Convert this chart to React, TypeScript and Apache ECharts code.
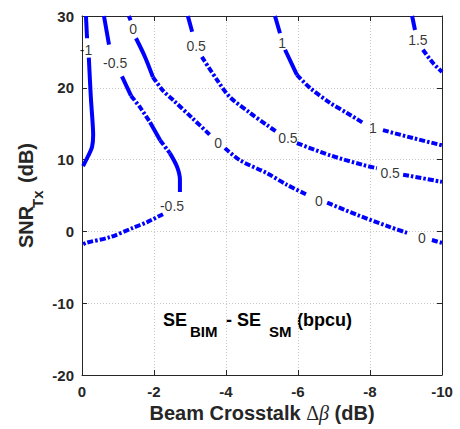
import React, { useEffect, useRef } from "react";
import * as echarts from "echarts";

// ---- axes ----
const X_MIN = -10;
const X_MAX = 0;
const X_STEP = 2;
const Y_MIN = -20;
const Y_MAX = 30;
const Y_STEP = 10;

// ---- contour lines (x = beam crosstalk dB, y = SNR_Tx dB), split where labels sit ----
const levelMinus1 = [
  [[-0.11, 30], [-0.14, 26.9]],
  [[-0.19, 24.2], [-0.22, 21.1], [-0.25, 18.3], [-0.29, 15.5], [-0.31, 13.4], [-0.28, 11.8], [-0.17, 10.5], [-0.03, 9.1]],
];
const levelMinus05 = [
  [[-0.61, 30], [-0.75, 26.0]],
  [[-1.11, 21.6], [-1.36, 18.9], [-1.61, 17.3], [-1.89, 15.2], [-2.17, 12.7], [-2.44, 10.9], [-2.64, 9.0], [-2.72, 7.2], [-2.72, 5.5]],
  [[-2.25, 2.4], [-1.81, 1.3], [-1.42, 0.5], [-0.78, -0.8], [-0.11, -1.6], [0, -1.9]],
];
const level0 = [
  [[-1.3, 30], [-1.35, 29.4]],
  [[-1.5, 26.9], [-1.75, 24.3], [-1.97, 21.5], [-2.25, 19.6], [-2.53, 18.3], [-3.06, 15.8], [-3.56, 13.4]],
  [[-3.97, 11.6], [-4.39, 9.9], [-5.14, 8.1], [-5.69, 6.5], [-6.25, 5.1]],
  [[-6.81, 4.0], [-7.64, 2.3], [-8.56, 0.6], [-9.03, -0.2]],
  [[-9.72, -1.2], [-10, -1.6]],
];
const level05 = [
  [[-2.94, 30], [-3.06, 27.8]],
  [[-3.33, 24.3], [-3.75, 21.1], [-4.11, 18.7], [-4.67, 16.5], [-5.14, 14.8], [-5.42, 13.8]],
  [[-5.97, 12.3], [-6.89, 10.6], [-7.81, 9.25], [-8.19, 8.8]],
  [[-8.92, 7.9], [-10, 6.9]],
];
const level1 = [
  [[-5.36, 30], [-5.5, 27.6]],
  [[-5.64, 25.3], [-5.97, 21.8], [-6.33, 20.0], [-6.89, 17.9], [-7.36, 16.5], [-7.81, 15.1]],
  [[-8.36, 14.1], [-9.19, 13.0], [-10, 12.0]],
];
const level15 = [
  [[-9.17, 30], [-9.25, 28.05]],
  [[-9.47, 25.3], [-9.75, 23.45], [-10, 22.2]],
];
const allLevels = [levelMinus1, levelMinus05, level0, level05, level1, level15];

// ---- contour labels ----
const labelText = ["-1", "-0.5", "0", "0.5", "1", "1.5", "0", "0.5", "1", "0.5", "0", "0", "-0.5"];
const labelX = [-0.11, -0.92, -1.42, -3.17, -5.56, -9.33, -3.78, -5.72, -8.08, -8.56, -6.58, -9.44, -2.5];
const labelY = [25.3, 23.5, 28.2, 25.8, 26.2, 26.7, 12.3, 13.0, 14.4, 8.1, 4.2, -0.9, 3.5];

const FONT = '"Liberation Sans", Arial, Helvetica, sans-serif';
const AXIS_COLOR = "#262626";
const BLUE = "#0000ff";

const GRID = { left: 82, top: 16, width: 360, height: 359 };

// split a polyline into steep (drawn solid) and flat (drawn dash-dot) runs
function splitRuns(seg: number[][]) {
  const pxX = GRID.width / (X_MAX - X_MIN);
  const pxY = GRID.height / (Y_MAX - Y_MIN);
  const runs: { steep: boolean; pts: number[][] }[] = [];
  for (let i = 0; i < seg.length - 1; i++) {
    const dx = Math.abs(seg[i + 1][0] - seg[i][0]) * pxX;
    const dy = Math.abs(seg[i + 1][1] - seg[i][1]) * pxY;
    const steep = dy > 1.6 * dx;
    const last = runs[runs.length - 1];
    if (last && last.steep === steep) last.pts.push(seg[i + 1]);
    else runs.push({ steep, pts: [seg[i], seg[i + 1]] });
  }
  return runs;
}

export default function App() {
  const ref = useRef<HTMLDivElement>(null);
  useEffect(() => {
    if (!ref.current) return;
    const chart = echarts.init(ref.current, undefined, { renderer: "svg" });

    const lineSeries: any[] = [];
    allLevels.forEach((segs) => {
      segs.forEach((seg) => {
        splitRuns(seg).forEach((run) => {
          lineSeries.push({
            type: "line",
            xAxisIndex: 0,
            yAxisIndex: 0,
            data: run.pts,
            symbol: "none",
            showSymbol: false,
            smooth: 0.3,
            silent: true,
            z: 3,
            lineStyle: {
              color: BLUE,
              width: 4,
              type: run.steep ? "solid" : [6, 2, 2.5, 2],
              cap: "butt",
            },
          });
        });
      });
    });

    const labelSeries = {
      type: "scatter",
      xAxisIndex: 0,
      yAxisIndex: 0,
      symbolSize: 0,
      silent: true,
      z: 5,
      data: labelX.map((x, i) => [x, labelY[i], labelText[i]]),
      label: {
        show: true,
        position: "inside",
        formatter: (p: any) => p.value[2],
        color: "#000",
        fontSize: 14,
        fontFamily: FONT,
      },
    };

    const splitStyle = { show: true, lineStyle: { color: "#c8c8c8", width: 1, type: [1, 2] } };

    const xBase = {
      type: "value",
      min: X_MIN,
      max: X_MAX,
      interval: X_STEP,
      inverse: true,
      axisLine: { show: true, onZero: false, lineStyle: { color: AXIS_COLOR, width: 1 } },
      axisTick: { show: true, inside: true, length: 5, lineStyle: { color: AXIS_COLOR } },
    };
    const yBase = {
      type: "value",
      min: Y_MIN,
      max: Y_MAX,
      interval: Y_STEP,
      axisLine: { show: true, onZero: false, lineStyle: { color: AXIS_COLOR, width: 1 } },
      axisTick: { show: true, inside: true, length: 5, lineStyle: { color: AXIS_COLOR } },
    };

    const mainFont = (size: number) => `bold ${size}px ${FONT}`;

    chart.setOption({
      animation: false,
      backgroundColor: "#ffffff",
      grid: { ...GRID, containLabel: false, outerBoundsMode: "none" },
      xAxis: [
        {
          ...xBase,
          position: "bottom",
          axisLabel: { color: AXIS_COLOR, fontSize: 15, fontWeight: "bold", fontFamily: FONT, margin: 8, lineHeight: 16 },
          splitLine: splitStyle,
        },
        {
          ...xBase,
          position: "top",
          axisLabel: { show: false },
          splitLine: { show: false },
        },
      ],
      yAxis: [
        {
          ...yBase,
          position: "left",
          axisLabel: { color: AXIS_COLOR, fontSize: 15, fontWeight: "bold", fontFamily: FONT, margin: 8 },
          splitLine: splitStyle,
        },
        {
          ...yBase,
          position: "right",
          axisLabel: { show: false },
          splitLine: { show: false },
        },
      ],
      series: [...lineSeries, labelSeries],
      graphic: [
        // x axis title
        {
          type: "text",
          x: 262,
          y: 413,
          silent: true,
          style: {
            text: "{b|Beam Crosstalk }{d|\u0394}{i|\u03B2}{b| (dB)}",
            align: "center",
            verticalAlign: "middle",
            fill: AXIS_COLOR,
            rich: {
              b: { fontSize: 20, fontWeight: "bold", fontFamily: FONT, fill: AXIS_COLOR, lineHeight: 21 },
              d: { fontSize: 20, fontWeight: "normal", fontFamily: '"Liberation Serif", "DejaVu Serif", serif', fill: AXIS_COLOR, lineHeight: 21 },
              i: { fontSize: 20, fontWeight: "normal", fontStyle: "italic", fontFamily: '"Liberation Serif", "DejaVu Serif", serif', fill: AXIS_COLOR, lineHeight: 21 },
            },
          },
        },
        // y axis title (rotated)
        {
          type: "group",
          x: 0,
          y: 0,
          rotation: Math.PI / 2,
          silent: true,
          children: [
            { type: "text", x: -248, y: 25.6, style: { text: "SNR", font: mainFont(20), fill: AXIS_COLOR, align: "left", verticalAlign: "middle" } },
            { type: "text", x: -208, y: 37.5, style: { text: "Tx", font: mainFont(15), fill: AXIS_COLOR, align: "left", verticalAlign: "middle" } },
            { type: "text", x: -183, y: 25.6, style: { text: "(dB)", font: mainFont(20), fill: AXIS_COLOR, align: "left", verticalAlign: "middle" } },
          ],
        },
        // annotation SE_BIM - SE_SM (bpcu)
        { type: "text", x: 163, y: 319.8, silent: true, style: { text: "SE", font: mainFont(18), fill: "#000", align: "left", verticalAlign: "middle" } },
        { type: "text", x: 190, y: 331.5, silent: true, style: { text: "BIM", font: mainFont(15), fill: "#000", align: "left", verticalAlign: "middle" } },
        { type: "text", x: 226, y: 319.8, silent: true, style: { text: "-", font: mainFont(18), fill: "#000", align: "left", verticalAlign: "middle" } },
        { type: "text", x: 237, y: 319.8, silent: true, style: { text: "SE", font: mainFont(18), fill: "#000", align: "left", verticalAlign: "middle" } },
        { type: "text", x: 269, y: 331.5, silent: true, style: { text: "SM", font: mainFont(15), fill: "#000", align: "left", verticalAlign: "middle" } },
        { type: "text", x: 297, y: 319.8, silent: true, style: { text: "(bpcu)", font: mainFont(18), fill: "#000", align: "left", verticalAlign: "middle" } },
      ],
    });

    return () => chart.dispose();
  }, []);

  return (
    <div
      ref={ref}
      style={{ position: "absolute", left: 0, top: 0, width: 460, height: 429, background: "#fff" }}
    />
  );
}
